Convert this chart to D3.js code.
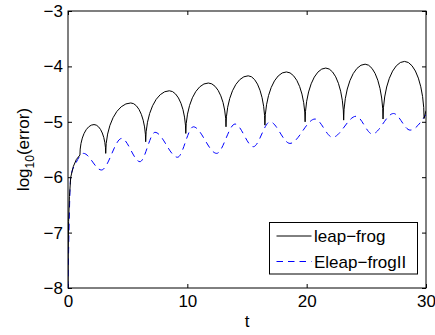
<!DOCTYPE html>
<html>
<head>
<meta charset="utf-8">
<script src="https://cdn.jsdelivr.net/npm/d3@7"></script>
<style>
  body { margin: 0; background: #fff; }
  text { font-family: "Liberation Sans", Arial, sans-serif; }
</style>
</head>
<body>
<script>
// leap-frog: initial rise, then arches between cusps
var riseT = [0, 0.02, 0.05, 0.12, 0.23, 0.44, 0.7];
var riseV = [-8, -7.3, -6.8, -6.35, -6.0, -5.81, -5.68];
var cuspT = [1.0, 3.16, 6.51, 9.87, 13.24, 16.5, 19.87, 23.1, 26.4, 29.84];
var cuspV = [-5.60, -5.57, -5.36, -5.21, -5.09, -5.06, -5.00, -4.97, -4.95, -4.94];
var peakT = [2.18, 5.26, 8.49, 11.76, 15.1, 18.3, 21.6, 24.9, 28.2];
var peakV = [-5.05, -4.66, -4.44, -4.30, -4.17, -4.10, -4.03, -3.96, -3.91];
var endT = 30, endV = -4.80;

// Eleap-frogII
var blueT = [0, 0.08, 0.23, 0.65, 1.3, 2.8, 4.5, 6.03, 7.29, 9.18, 10.5, 12.46, 14.0, 15.53, 16.93, 18.6, 20.7, 22.17, 24.14, 25.5, 27.28, 28.67, 30];
var blueV = [-8, -7, -5.99, -5.75, -5.57, -5.87, -5.30, -5.72, -5.19, -5.64, -5.09, -5.57, -5.04, -5.45, -5.00, -5.39, -4.95, -5.28, -4.90, -5.22, -4.85, -5.15, -4.87];

var xTicks = [0, 10, 20, 30];
var yTicks = [-8, -7, -6, -5, -4, -3];
var seriesNames = ["leap\u2212frog", "Eleap\u2212frogII"];

var w = 435, h = 335;
var margin = {top: 11, right: 9, bottom: 47, left: 68};
var width = w - margin.left - margin.right;
var height = h - margin.top - margin.bottom;

var x = d3.scaleLinear().domain([0, 30]).range([0, width]);
var y = d3.scaleLinear().domain([-8, -3]).range([height, 0]);

var svg = d3.select('body').append('svg')
  .attr('width', w)
  .attr('height', h);

var g = svg.append('g')
  .attr('transform', 'translate(' + margin.left + ',' + margin.top + ')');

g.append('clipPath').attr('id', 'clip')
  .append('rect').attr('width', width).attr('height', height);

var fmt = function(d){ return String(d).replace('-', '\u2212'); };

// axes, ticks pointing inward on all four sides
var axB = g.append('g').attr('transform', 'translate(0,' + height + ')')
  .call(d3.axisBottom(x).tickValues(xTicks).tickSizeInner(-4).tickSizeOuter(0).tickPadding(7).tickFormat(fmt));
var axL = g.append('g')
  .call(d3.axisLeft(y).tickValues(yTicks).tickSizeInner(-4).tickSizeOuter(0).tickPadding(5).tickFormat(fmt));
var axT = g.append('g')
  .call(d3.axisTop(x).tickValues(xTicks).tickSizeInner(-4).tickSizeOuter(0).tickFormat(''));
var axR = g.append('g').attr('transform', 'translate(' + width + ',0)')
  .call(d3.axisRight(y).tickValues(yTicks).tickSizeInner(-4).tickSizeOuter(0).tickFormat(''));

[axB, axL, axT, axR].forEach(function(a){
  a.select('.domain').remove();
  a.selectAll('line').attr('stroke', '#000');
  a.selectAll('text').attr('font-size', 17).attr('fill', '#000')
    .attr('font-family', '"Liberation Sans", Arial, sans-serif');
});

g.append('rect')
  .attr('width', width).attr('height', height)
  .attr('fill', 'none').attr('stroke', '#000').attr('stroke-width', 1);

// black curve: straight rise then elliptical arches between cusps
var rise = riseT.map(function(t, i){ return [t, riseV[i]]; });
rise.push([cuspT[0], cuspV[0]]);
var dBlack = d3.line().x(function(d){ return x(d[0]); }).y(function(d){ return y(d[1]); })(rise);
for (var i = 0; i < peakT.length; i++) {
  var x0 = x(cuspT[i]), y0 = y(cuspV[i]);
  var xp = x(peakT[i]), yp = y(peakV[i]);
  var x1 = x(cuspT[i + 1]), y1 = y(cuspV[i + 1]);
  dBlack += 'A' + (xp - x0) + ',' + (y0 - yp) + ' 0 0 1 ' + xp + ',' + yp;
  dBlack += 'A' + (x1 - xp) + ',' + (y1 - yp) + ' 0 0 1 ' + x1 + ',' + y1;
}
dBlack += 'L' + x(endT) + ',' + y(endV);

var lines = g.append('g').attr('clip-path', 'url(#clip)');

lines.append('path')
  .attr('d', d3.line()
    .x(function(d){ return x(d[0]); })
    .y(function(d){ return y(d[1]); })
    .curve(d3.curveMonotoneX)(blueT.map(function(t, i){ return [t, blueV[i]]; })))
  .attr('fill', 'none').attr('stroke', '#0000ff').attr('stroke-width', 1)
  .attr('stroke-dasharray', '6.5,5');

lines.append('path')
  .attr('d', dBlack)
  .attr('fill', 'none').attr('stroke', '#000').attr('stroke-width', 1);

// axis labels
svg.append('text')
  .attr('x', margin.left + x(15)).attr('y', 327)
  .attr('text-anchor', 'middle').attr('font-size', 17)
  .text('t');

var yl = svg.append('text')
  .attr('transform', 'translate(29,' + (margin.top + height / 2) + ') rotate(-90)')
  .attr('text-anchor', 'middle').attr('font-size', 17);
yl.append('tspan').text('log');
yl.append('tspan').attr('font-size', 12).attr('dy', 5).text('10');
yl.append('tspan').attr('dy', -5).text('(error)');

// legend
var leg = svg.append('g').attr('transform', 'translate(269.5,222.5)');
leg.append('rect').attr('width', 148).attr('height', 51.5)
  .attr('fill', '#fff').attr('stroke', '#000').attr('stroke-width', 1);
var styles = [{c: '#000', dash: null}, {c: '#0000ff', dash: '6.5,5'}];
seriesNames.forEach(function(name, i){
  var ly = 13.5 + i * 25.5;
  leg.append('line')
    .attr('x1', 7).attr('x2', 42).attr('y1', ly).attr('y2', ly)
    .attr('stroke', styles[i].c).attr('stroke-width', 1)
    .attr('stroke-dasharray', styles[i].dash);
  leg.append('text')
    .attr('x', 44.5).attr('y', ly + 6)
    .attr('font-size', 17)
    .text(name);
});
</script>
</body>
</html>
